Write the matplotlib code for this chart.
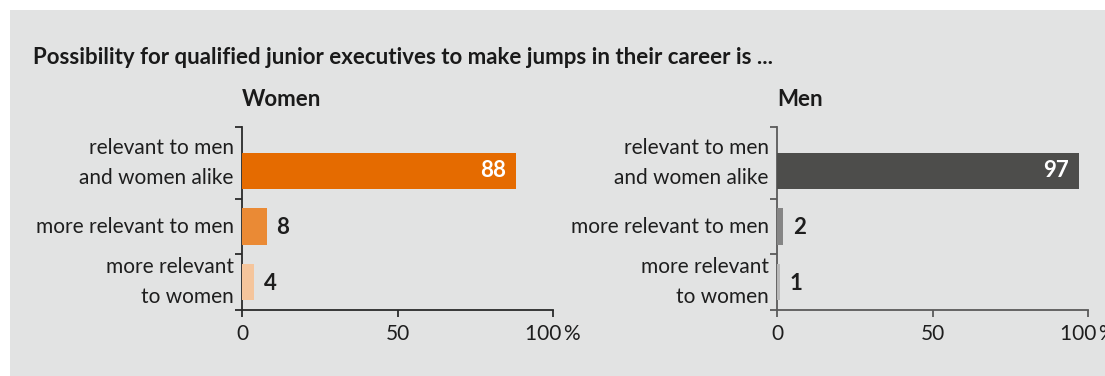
"""Career jumps chart: women vs men, horizontal bars."""
import matplotlib.pyplot as plt
from matplotlib.patches import Rectangle

plt.rcParams["font.family"] = ["Lato", "DejaVu Sans"]

title = "Possibility for qualified junior executives to make jumps in their career is ..."
categories = ["relevant to men\nand women alike", "more relevant to men", "more relevant\nto women"]
women = [88, 8, 4]
men = [97, 2, 1]
women_colors = ["#e56b00", "#ea8a35", "#f5c59c"]
men_colors = ["#4d4d4b", "#858585", "#b8b8b8"]
xticks = [0, 50, 100]
xticklabels = ["0", "50", "100\u2009%"]

W, H = 1105, 376
fig = plt.figure(figsize=(W / 100, H / 100), dpi=100)
fig.patch.set_facecolor("white")
fig.patches.append(Rectangle((10 / W, 0), 1, 366 / H, transform=fig.transFigure,
                             facecolor="#e2e3e3", edgecolor="none", zorder=-10))

fig.text(33 / W, 1 - 57 / H, title, fontsize=16, fontweight="bold",
         color="#1a1a1a", va="center", ha="left")

TEXT = "#1e1e1e"
YTOP = -0.79


def draw_panel(left_px, name, values, colors, axis_color):
    ax = fig.add_axes([left_px / W, (H - 310) / H, 311 / W, 183 / H])
    ax.set_facecolor("none")
    y = range(len(values))
    ax.barh(y, values, height=0.65, color=colors, zorder=3)
    ax.set_xlim(0, 100)
    ax.set_ylim(2.5, YTOP)
    for sp in ("top", "right"):
        ax.spines[sp].set_visible(False)
    for sp in ("left", "bottom"):
        ax.spines[sp].set_color(axis_color)
        ax.spines[sp].set_linewidth(1.3)
    ax.set_yticks([YTOP, 0.5, 1.5, 2.5])
    ax.set_yticklabels([])
    ax.tick_params(axis="y", length=5, width=1.3, color=axis_color)
    ax.set_xticks(xticks, xticklabels)
    ax.tick_params(axis="x", length=5, width=1.3, color=axis_color,
                   labelsize=15, labelcolor=TEXT, pad=5)
    for i, cat in enumerate(categories):
        # first label sits in the middle of the taller top band
        ypos = (YTOP + 0.5) / 2 if i == 0 else i
        ax.annotate(cat, xy=(0, ypos), xytext=(-6, 0), textcoords="offset points",
                    ha="right", va="center", fontsize=15, color=TEXT,
                    linespacing=1.6)
    for i, v in enumerate(values):
        if v > 50:
            ax.annotate(str(v), xy=(v, i), xytext=(-7, 0), textcoords="offset points",
                        ha="right", va="center", fontsize=16, fontweight="bold",
                        color="white")
        else:
            ax.annotate(str(v), xy=(v, i), xytext=(7, -1), textcoords="offset points",
                        ha="left", va="center", fontsize=16, fontweight="bold",
                        color=TEXT)
    fig.text(left_px / W, 1 - 100 / H, name, fontsize=16, fontweight="bold",
             color="#1a1a1a", va="center", ha="left")
    return ax


draw_panel(242, "Women", women, women_colors, "#2a2a2a")
draw_panel(777, "Men", men, men_colors, "#5a5a5a")

fig.savefig("out.png", dpi=100)
